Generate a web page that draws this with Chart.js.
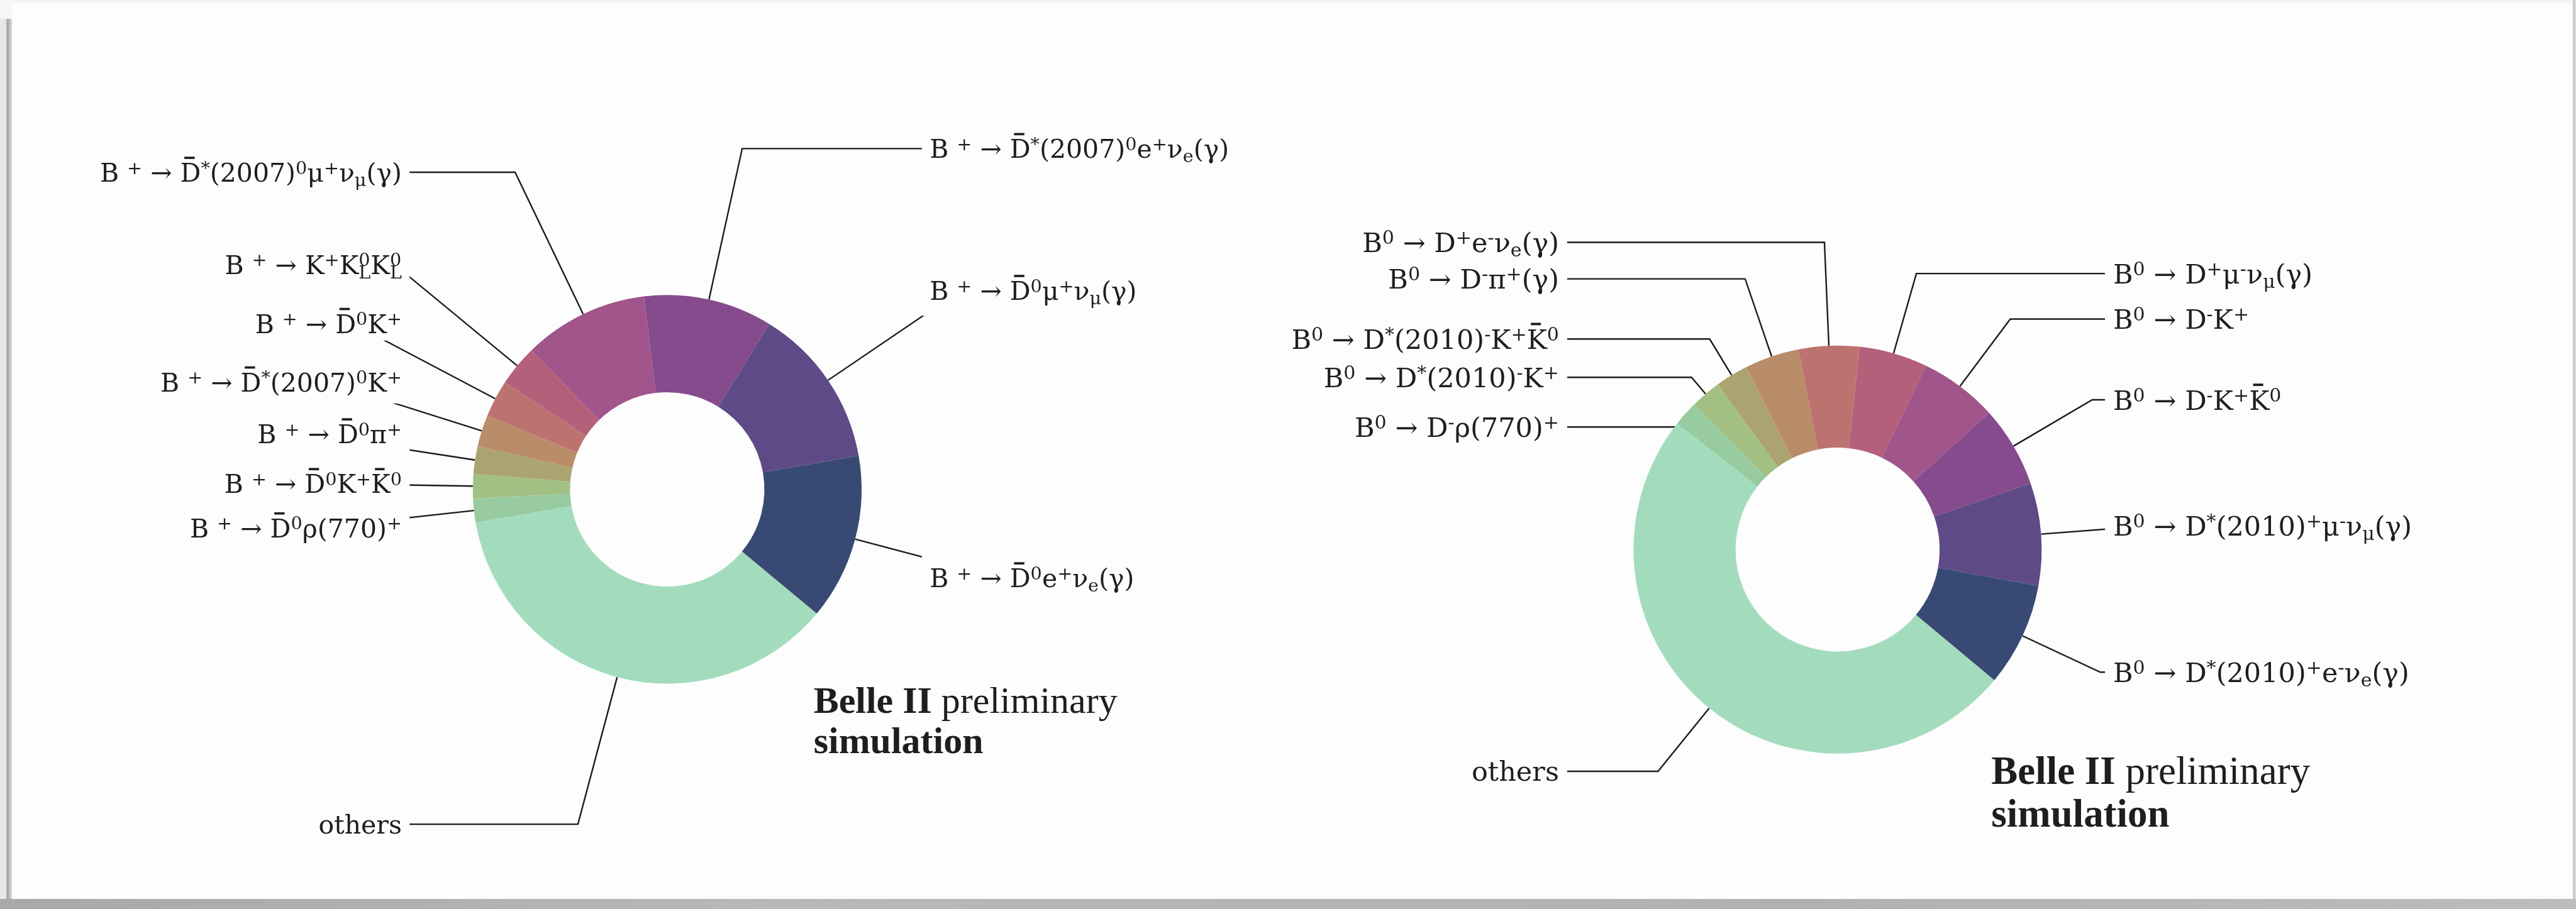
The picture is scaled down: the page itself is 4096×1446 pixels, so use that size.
<!DOCTYPE html>
<html>
<head>
  <title>B meson decay composition - Belle II simulation</title>
  <meta charset="utf-8" />
  <script src="https://cdn.jsdelivr.net/npm/chart.js"></script>
  <style>
    body { margin: 0; width: 4096px; height: 1446px; position: relative; overflow: hidden; background: #b5b5b5; }
    #corner { position: absolute; left: 0; top: 0; width: 19px; height: 30px; background: #f6f6f6; }
    #edge { position: absolute; left: 0; top: 30px; width: 19px; height: 1400px;
            background: linear-gradient(to right, #e8e8e8 0, #e4e4e4 10px, #9c9c9c 11px, #dcdcdc 19px); }
    #sheet { position: absolute; left: 19px; top: 0; width: 4072px; height: 1430px; box-sizing: border-box;
             background: #fdfdfd; border-top: 5px solid #f4f4f4; }
    #rim { position: absolute; left: 4091px; top: 0; width: 5px; height: 1430px;
           background: linear-gradient(to right, #c2c2c2, #dedede); }
    #floor { position: absolute; left: 0; top: 1430px; width: 4096px; height: 16px;
             background: linear-gradient(to right, #a8a8a8, #b8b8b8 30%, #b1b1b1 70%, #bcbcbc); }
    canvas { position: absolute; left: 0; top: 0; }
  </style>
</head>
<body>
  <div id="corner"></div>
  <div id="edge"></div>
  <div id="sheet"></div>
  <div id="rim"></div>
  <div id="floor"></div>
  <canvas id="chargedChart" width="4096" height="1446"></canvas>
  <canvas id="neutralChart" width="4096" height="1446"></canvas>

  <script>
    // shares of each decay mode, listed counter-clockwise from the dark blue wedge
    const chargedModes = [
      'B ^{+} → D̄^{0}e^{+}ν_{e}(γ)',
      'B ^{+} → D̄^{0}μ^{+}ν_{μ}(γ)',
      'B ^{+} → D̄^{*}(2007)^{0}e^{+}ν_{e}(γ)',
      'B ^{+} → D̄^{*}(2007)^{0}μ^{+}ν_{μ}(γ)',
      'B ^{+} → K^{+}K_{L}^{0}K_{L}^{0}',
      'B ^{+} → D̄^{0}K^{+}',
      'B ^{+} → D̄^{*}(2007)^{0}K^{+}',
      'B ^{+} → D̄^{0}π^{+}',
      'B ^{+} → D̄^{0}K^{+}K̄^{0}',
      'B ^{+} → D̄^{0}ρ(770)^{+}',
      'others'
    ];
    const chargedShares = [13.8, 13.4, 10.7, 10.4, 3.4, 3.1, 2.6, 2.3, 2.0, 2.0, 36.2];

    const neutralModes = [
      'B^{0} → D^{*}(2010)^{+}e^{-}ν_{e}(γ)',
      'B^{0} → D^{*}(2010)^{+}μ^{-}ν_{μ}(γ)',
      'B^{0} → D^{-}K^{+}K̄^{0}',
      'B^{0} → D^{-}K^{+}',
      'B^{0} → D^{+}μ^{-}ν_{μ}(γ)',
      'B^{0} → D^{+}e^{-}ν_{e}(γ)',
      'B^{0} → D^{-}π^{+}(γ)',
      'B^{0} → D^{*}(2010)^{-}K^{+}K̄^{0}',
      'B^{0} → D^{*}(2010)^{-}K^{+}',
      'B^{0} → D^{-}ρ(770)^{+}',
      'others'
    ];
    const neutralShares = [8.2, 8.1, 6.4, 6.2, 5.4, 4.8, 4.3, 2.6, 2.4, 2.0, 49.5];

    const palette = ['#384a73', '#5e4a86', '#864b8c', '#a1558a', '#b5607b', '#bc736f',
                     '#b98c6a', '#aca470', '#a2c084', '#98cba0', '#a3dcbd'];

    // label heights in units of the ring radius (negative = above the centre)
    const chargedLabelRise = [0.455, -1.024, -1.754, -1.632, -1.158, -0.854, -0.553, -0.286, -0.030, 0.198, 1.723];
    const neutralLabelRise = [0.601, -0.116, -0.734, -1.130, -1.353, -1.506, -1.327, -1.032, -0.844, -0.601, 1.087];

    const captionBold = 'Belle II';
    const captionPlain = 'preliminary';
    const captionSecond = 'simulation';

    const PAGE_W = 4096, PAGE_H = 1446;
    const TEXT = '#1e1e1e';

    function serif(size) { return size.toFixed(2) + 'px "DejaVu Serif"'; }

    // lays out a label with ^{..} / _{..} scripts and combining overbars
    function layoutLabel(ctx, text, fs) {
      const runs = [];
      let x = 0, lastSub = null, i = 0;
      while (i < text.length) {
        const c = text[i];
        if ((c === '^' || c === '_') && text[i + 1] === '{') {
          const j = text.indexOf('}', i);
          const body = text.slice(i + 2, j);
          const size = fs * 0.7;
          ctx.font = serif(size);
          const w = ctx.measureText(body).width;
          if (c === '^' && lastSub) {
            runs.push({ t: body, x: lastSub.x, dy: -0.3 * fs, size, w });
            x = lastSub.x + Math.max(lastSub.w, w);
            lastSub = null;
          } else {
            const r = { t: body, x, dy: c === '^' ? -0.3 * fs : 0.17 * fs, size, w };
            runs.push(r);
            lastSub = c === '_' ? r : null;
            x += w;
          }
          i = j + 1;
        } else {
          const bar = text[i + 1] === '\u0304';
          ctx.font = serif(fs);
          const w = ctx.measureText(c).width;
          runs.push({ t: c, x, dy: 0, size: fs, bar, w });
          x += w;
          lastSub = null;
          i += bar ? 2 : 1;
        }
      }
      ctx.font = serif(fs);
      const cap = ctx.measureText('B').actualBoundingBoxAscent;
      let ascent = 0, descent = 0;
      runs.forEach(r => {
        ctx.font = serif(r.size);
        const m = ctx.measureText(r.t);
        ascent = Math.max(ascent, m.actualBoundingBoxAscent - r.dy, r.bar ? cap + 0.24 * fs : 0);
        descent = Math.max(descent, m.actualBoundingBoxDescent + r.dy);
      });
      return { runs, width: x, cap, ascent, descent };
    }

    function drawLabel(ctx, lab, tx, base) {
      ctx.fillStyle = TEXT;
      ctx.textAlign = 'left';
      ctx.textBaseline = 'alphabetic';
      lab.runs.forEach(r => {
        ctx.font = serif(r.size);
        ctx.fillText(r.t, tx + r.x, base + r.dy);
        if (r.bar) {
          ctx.fillRect(tx + r.x + 0.2 * r.w, base - lab.cap - 0.24 * r.size, 0.5 * r.w, 0.09 * r.size);
        }
      });
    }

    // where each wedge's label sits and how its leader runs
    function placeLabels(chart, opts) {
      const ctx = chart.ctx;
      const names = chart.data.labels;
      return chart.getDatasetMeta(0).data.map((arc, i) => {
        const { x, y, startAngle, endAngle, outerRadius: R } = arc;
        const mid = (startAngle + endAngle) / 2;
        const cos = Math.cos(mid), sin = Math.sin(mid);
        const onLeft = cos < 0;
        const fs = opts.fontScale * R;
        const lab = layoutLabel(ctx, names[i], fs);
        const ly = y + opts.rise[i] * R;
        const ax = onLeft ? x - opts.reachLeft * R : x + opts.reachRight * R;
        const tx = onLeft ? ax - lab.width : ax;
        const base = ly + lab.cap / 2;
        const pad = 0.3 * fs;
        // out along the wedge's middle, then level with the label
        let t = Math.abs(sin) > 1e-3 ? (ly - y) / sin : Infinity;
        if (!isFinite(t) || t < 0) t = (ax - x) / cos;
        return {
          lab, tx, base, ax, ly,
          from: [x + R * cos, y + R * sin],
          knee: [x + t * cos, y + t * sin],
          box: [tx - pad, base - lab.ascent - pad, lab.width + 2 * pad, lab.ascent + lab.descent + 2 * pad]
        };
      });
    }

    const leaderLabels = {
      id: 'leaderLabels',
      // leaders go under the wedges, so any stretch inside the ring is hidden
      beforeDatasetsDraw(chart, args, opts) {
        const ctx = chart.ctx;
        placeLabels(chart, opts).forEach(p => {
          ctx.save();
          ctx.beginPath();
          ctx.rect(0, 0, chart.width, chart.height);
          ctx.rect(...p.box);
          ctx.clip('evenodd');
          ctx.beginPath();
          ctx.moveTo(...p.from);
          ctx.lineTo(...p.knee);
          ctx.lineTo(p.ax, p.ly);
          ctx.strokeStyle = '#1b1b1b';
          ctx.lineWidth = 2.4;
          ctx.lineJoin = 'miter';
          ctx.stroke();
          ctx.restore();
        });
      },
      afterDraw(chart, args, opts) {
        const ctx = chart.ctx;
        ctx.save();
        placeLabels(chart, opts).forEach(p => drawLabel(ctx, p.lab, p.tx, p.base));

        // experiment caption below-right of the ring
        const { x, y, outerRadius: R } = chart.getDatasetMeta(0).data[0];
        const c = opts.caption;
        const cs = c.size * R;
        const cx0 = x + c.dx * R;
        ctx.fillStyle = TEXT;
        ctx.textAlign = 'left';
        ctx.textBaseline = 'alphabetic';
        ctx.font = 'bold ' + cs.toFixed(2) + 'px "Liberation Serif"';
        ctx.fillText(captionBold, cx0, y + c.dy1 * R);
        const lead = ctx.measureText(captionBold + ' ').width;
        ctx.fillText(captionSecond, cx0, y + c.dy2 * R);
        ctx.font = cs.toFixed(2) + 'px "Liberation Serif"';
        ctx.fillText(captionPlain, cx0 + lead, y + c.dy1 * R);
        ctx.restore();
      }
    };

    // Chart.js sweeps clockwise, so the counter-clockwise lists are fed in reverse
    function ring(canvasId, modes, shares, rise, cx, cy, R, rotation) {
      const order = modes.map((m, i) => i).reverse();
      return new Chart(document.getElementById(canvasId), {
        type: 'doughnut',
        data: {
          labels: order.map(i => modes[i]),
          datasets: [{
            data: order.map(i => shares[i]),
            backgroundColor: order.map(i => palette[i]),
            borderWidth: 0,
            hoverOffset: 0
          }]
        },
        options: {
          responsive: false,
          animation: false,
          cutout: '50%',
          rotation: rotation,
          layout: {
            padding: { left: cx - R, right: PAGE_W - cx - R, top: cy - R, bottom: PAGE_H - cy - R }
          },
          events: [],
          plugins: {
            legend: { display: false },
            tooltip: { enabled: false },
            leaderLabels: {
              rise: order.map(i => rise[i]),
              fontScale: 0.1326,
              reachLeft: 1.365,
              reachRight: 1.35,
              caption: { dx: 0.753, dy1: 1.150, dy2: 1.357, size: 0.194 }
            }
          }
        },
        plugins: [leaderLabels]
      });
    }

    ring('chargedChart', chargedModes, chargedShares, chargedLabelRise, 1060.9, 778.5, 309.1, 129.7);
    ring('neutralChart', neutralModes, neutralShares, neutralLabelRise, 2921.9, 874.2, 324.5, 129.8);
  </script>
</body>
</html>
